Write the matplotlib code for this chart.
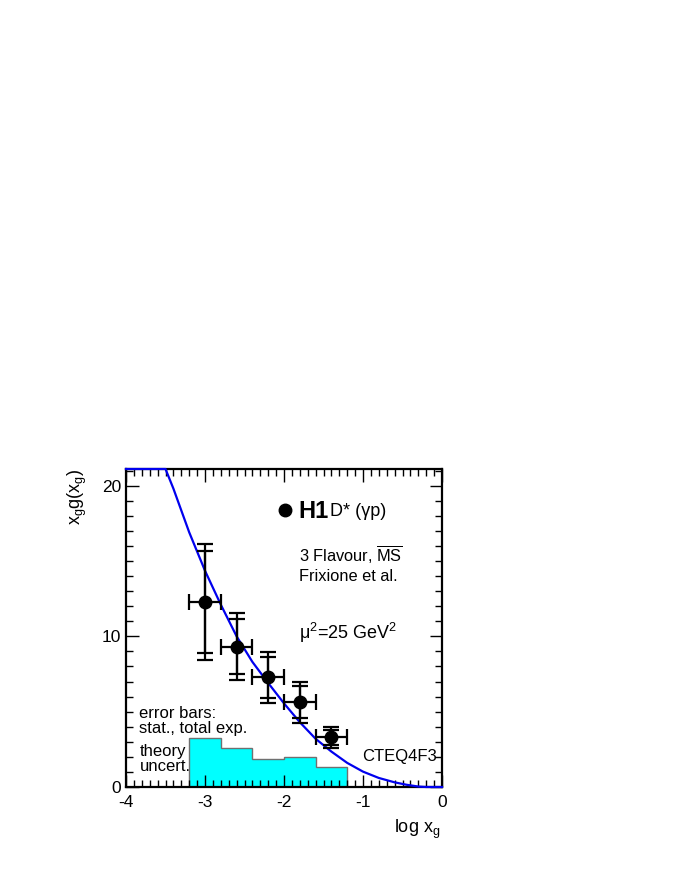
import numpy as np
import matplotlib
matplotlib.use("Agg")
import matplotlib.pyplot as plt
from matplotlib.ticker import MultipleLocator

plt.rcParams['font.family'] = ['Liberation Sans', 'DejaVu Sans']
plt.rcParams['mathtext.default'] = 'regular'
plt.rcParams['axes.unicode_minus'] = False

# ---- data ----
pt_x = [-3.0, -2.6, -2.2, -1.8, -1.4]
pt_y = [12.27, 9.32, 7.27, 5.62, 3.3]
pt_xerr = [0.2, 0.2, 0.2, 0.2, 0.2]
stat_err = [3.4, 1.85, 1.35, 1.05, 0.5]
tot_err = [3.85, 2.25, 1.7, 1.35, 0.7]

theo_edges = [-3.2, -2.8, -2.4, -2.0, -1.6, -1.2]
theo_vals = [3.28, 2.62, 1.89, 1.96, 1.31]

curve_x = [-4.0, -3.6, -3.5, -3.4, -3.2, -3.0, -2.8, -2.6, -2.4, -2.2, -2.0, -1.8,
           -1.6, -1.4, -1.2, -1.0, -0.8, -0.6, -0.45, -0.3, -0.2, 0.0]
curve_y = [29.0, 22.6, 21.2, 19.8, 16.9, 14.35, 12.1, 10.0, 8.3, 6.9, 5.55, 4.3,
           3.2, 2.35, 1.6, 1.02, 0.6, 0.31, 0.15, 0.03, 0.0, 0.0]

xmin, xmax = -4.0, 0.0
ymin, ymax = 0.0, 21.1

fig = plt.figure(figsize=(6.81, 8.81), dpi=100)
ax = fig.add_axes([126/681, 1-787/881, (442-126)/681, (787-469)/881])

# theory uncertainty band
ax.stairs(theo_vals, theo_edges, fill=True, color='#00FFFF', zorder=1)
ax.stairs(theo_vals, theo_edges, fill=False, color='#707070', lw=1.0, zorder=1.5)

# CTEQ4F3 curve (clipped at frame top, drawn over the frame like the original)
ax.plot(curve_x, np.minimum(curve_y, ymax), color='#0000EE', lw=1.6, zorder=2.6,
        clip_on=False)

# data points: total and stat error bars
ax.errorbar(pt_x, pt_y, yerr=tot_err, fmt='none', ecolor='black', elinewidth=1.6,
            capsize=6, capthick=1.6, zorder=3)
ax.errorbar(pt_x, pt_y, yerr=stat_err, xerr=pt_xerr, fmt='o', color='black',
            ms=9, elinewidth=1.6, capsize=6, capthick=1.6, zorder=4)

ax.set_xlim(xmin, xmax)
ax.set_ylim(ymin, ymax)

ax.xaxis.set_major_locator(MultipleLocator(1))
ax.xaxis.set_minor_locator(MultipleLocator(0.1))
ax.yaxis.set_major_locator(MultipleLocator(10))
ax.yaxis.set_minor_locator(MultipleLocator(1))
ax.tick_params(which='both', direction='in', top=True, right=True, width=1.0,
               labelsize=12.5)
ax.tick_params(which='major', length=9)
ax.tick_params(which='minor', length=5)
ax.tick_params(axis='x', pad=6)
for s in ax.spines.values():
    s.set_linewidth(1.6)

# legend / annotations
ax.plot([-1.99], [18.4], 'o', color='black', ms=9, zorder=5)
ax.text(-1.82, 18.3, 'H1', fontsize=17, fontweight='bold', va='center', ha='left')
ax.text(-1.42, 18.25, 'D* (γp)', fontsize=13, va='center', ha='left')
ax.text(-1.81, 14.9, r'3 Flavour, $\overline{\mathregular{MS}}$', fontsize=11.8, ha='left', va='baseline')
ax.text(-1.81, 13.7, 'Frixione et al.', fontsize=11.8, ha='left', va='baseline')
ax.text(-1.81, 9.85, r'μ$^2$=25 GeV$^2$', fontsize=13, ha='left', va='baseline')

ax.text(-3.83, 4.55, 'error bars:', fontsize=12, ha='left', va='baseline')
ax.text(-3.83, 3.55, 'stat., total exp.', fontsize=12, ha='left', va='baseline')
ax.text(-3.83, 2.05, 'theory', fontsize=12, ha='left', va='baseline')
ax.text(-3.83, 1.08, 'uncert.', fontsize=12, ha='left', va='baseline')
ax.text(-0.07, 1.73, 'CTEQ4F3', fontsize=12, ha='right', va='baseline')

fig.text(77/681, 1-469/881, r'x$_g$g(x$_g$)', rotation=90, fontsize=13,
         ha='center', va='top')
fig.text(440/681, 1-833/881, r'log x$_g$', fontsize=13, ha='right', va='baseline')

fig.savefig('out.png', dpi=100)
